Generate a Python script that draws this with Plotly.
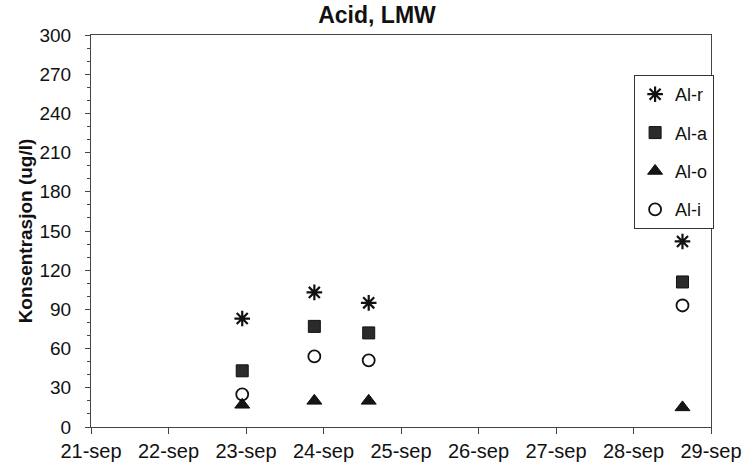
import plotly.graph_objects as go

# Sampling times (day fractions)
dates = ["2000-09-22 22:50", "2000-09-23 21:10", "2000-09-24 14:00", "2000-09-28 15:10"]

al_r = [83, 103, 95, 142]
al_a = [43, 77, 72, 111]
al_o = [17, 20, 20, 15]
al_i = [25, 54, 51, 93]

tick_dates = ["2000-09-%02d" % d for d in range(21, 30)]
tick_labels = ["%d-sep" % d for d in range(21, 30)]
y_ticks = list(range(0, 301, 30))

FONT = "Liberation Sans, Arial, sans-serif"

fig = go.Figure()
series = [
    ("Al-r", al_r, dict(symbol="asterisk-open", size=13, color="#111",
                        line=dict(color="#111", width=2.2))),
    ("Al-a", al_a, dict(symbol="square", size=12, color="#2b2b2b",
                        line=dict(color="#111", width=1))),
    ("Al-o", al_o, dict(symbol="triangle-up", size=13, color="#151515",
                        line=dict(color="#111", width=1))),
    ("Al-i", al_i, dict(symbol="circle-open", size=12, color="#111",
                        line=dict(color="#111", width=1.8))),
]
for name, vals, mk in series:
    fig.add_trace(go.Scatter(x=dates, y=vals, mode="markers", name=name,
                             legendgroup=name, marker=mk))

fig.update_layout(
    width=754, height=474,
    margin=dict(l=91, r=38, t=35, b=46),
    paper_bgcolor="white", plot_bgcolor="white",
    font=dict(family=FONT, size=19, color="#111"),
    title=dict(text="<b>Acid, LMW</b>", x=0.5, xanchor="center",
               y=0.985, yanchor="top", font=dict(size=23)),
    showlegend=True,
    legend=dict(x=1.005, xanchor="right", y=0.898, yanchor="top",
                bgcolor="white", bordercolor="#333", borderwidth=1,
                font=dict(size=18), tracegroupgap=12,
                traceorder="grouped", itemwidth=30),
)
fig.update_xaxes(
    type="date",
    range=["2000-09-21", "2000-09-29"],
    tickvals=tick_dates, ticktext=tick_labels,
    showgrid=False, zeroline=False,
    showline=True, linecolor="#444", linewidth=1, mirror=True,
    ticks="outside", ticklen=6, tickcolor="#444",
    tickfont=dict(size=20),
)
fig.update_yaxes(
    range=[0, 300], tickvals=y_ticks,
    showgrid=False, zeroline=False,
    showline=True, linecolor="#444", linewidth=1, mirror=True,
    ticks="outside", ticklen=5, tickcolor="#444",
    minor=dict(dtick=10, ticks="outside", ticklen=3, tickcolor="#444"),
    ticklabelstandoff=10,
    tickfont=dict(size=19),
    title=dict(text="<b>Konsentrasjon (ug/l)</b>", font=dict(size=19), standoff=1),
)

fig.write_html("out.html")
